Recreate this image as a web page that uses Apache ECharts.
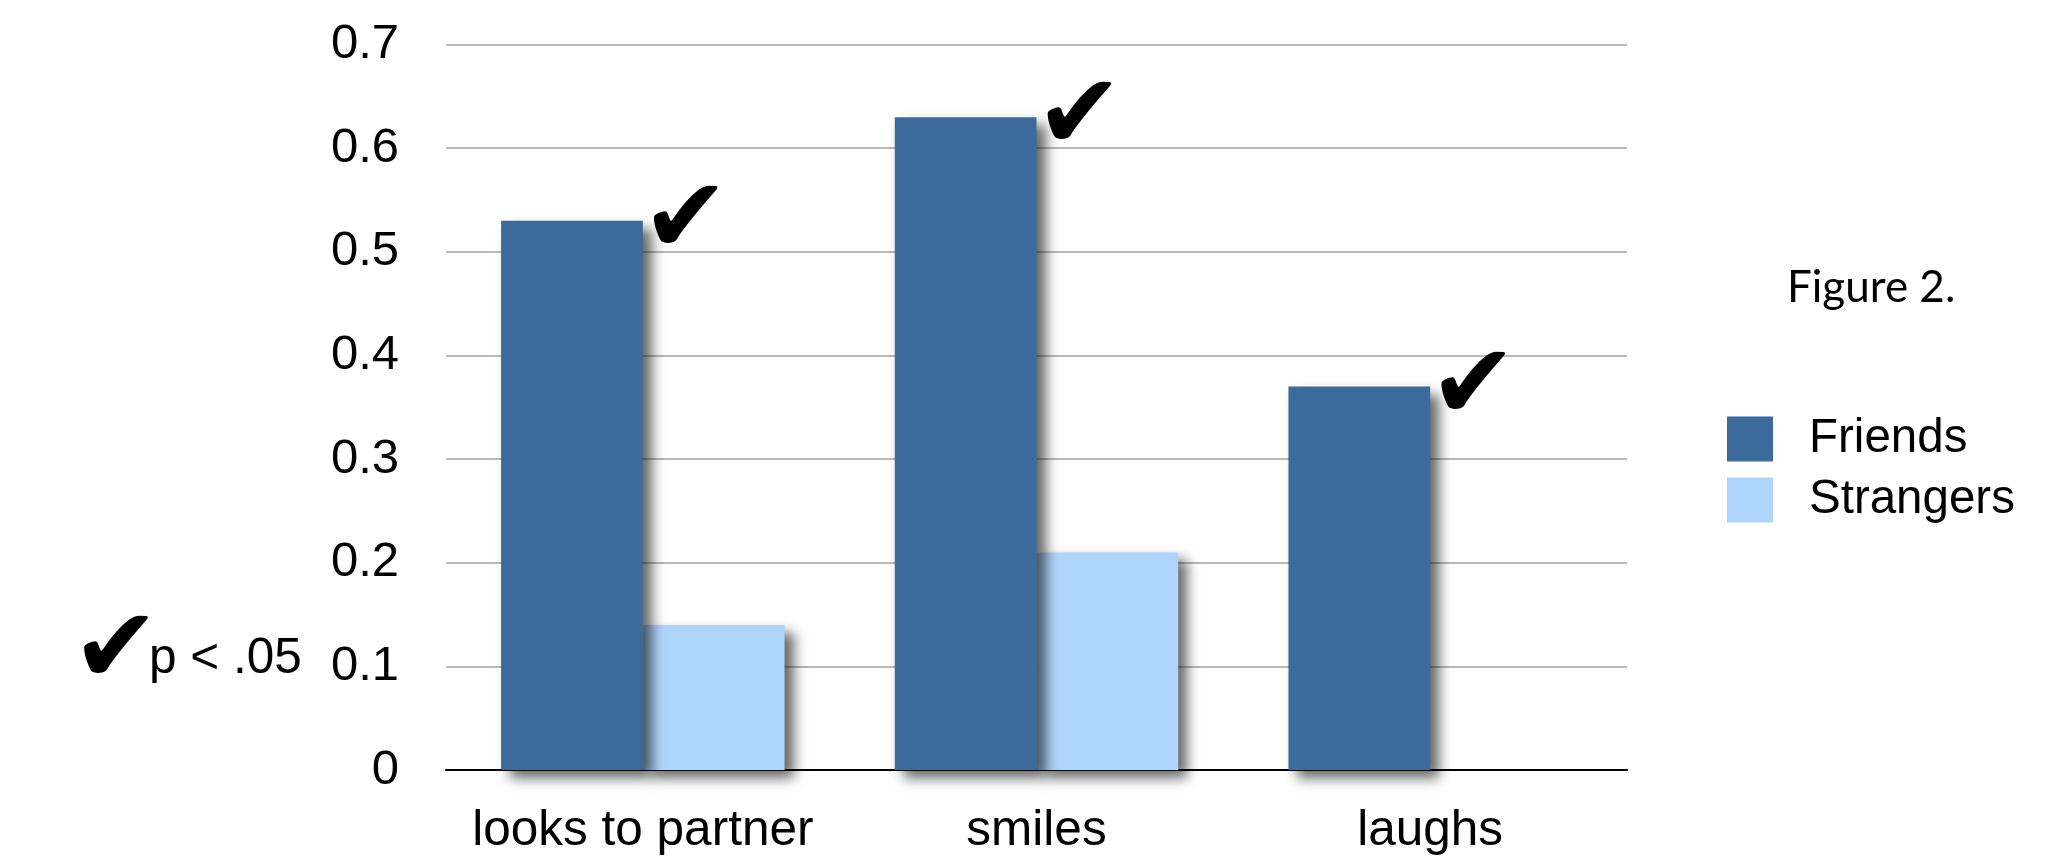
<!DOCTYPE html>
<html>
<head>
<meta charset="utf-8">
<script src="https://cdn.jsdelivr.net/npm/echarts@6/dist/echarts.min.js"></script>
<style>
html,body{margin:0;padding:0;background:#fff;}
#chart{width:2056px;height:856px;}
</style>
</head>
<body>
<div id="chart"></div>
<script>
const categories = ['looks to partner', 'smiles', 'laughs'];
const friends = [0.53, 0.63, 0.37];
const strangers = [0.14, 0.21, null];
const significant = [true, true, true];
const seriesNames = ['Friends', 'Strangers'];
const checkMark = '\u2714';
const noteText = 'p < .05';
const figureTitle = 'Figure 2.';

const FONT = '"Liberation Sans", Arial, sans-serif';
const chart = echarts.init(document.getElementById('chart'));

const shadow = {shadowBlur: 12, shadowOffsetX: 9, shadowOffsetY: 8, shadowColor: 'rgba(0,0,0,0.6)'};

chart.setOption({
  animation: false,
  backgroundColor: '#ffffff',
  textStyle: {fontFamily: FONT, color: '#000'},
  grid: {left: 446, right: 429, top: 44.6, bottom: 86, containLabel: false},
  legend: {
    orient: 'vertical',
    left: 1722,
    top: 410,
    itemWidth: 46,
    itemHeight: 45,
    itemGap: 13,
    icon: 'rect',
    data: seriesNames,
    textStyle: {fontFamily: FONT, fontSize: 47.5, color: '#000', padding: [0, 0, 0, 31]}
  },
  xAxis: {
    type: 'category',
    data: categories,
    axisLine: {lineStyle: {color: '#000', width: 2}},
    axisTick: {show: false},
    axisLabel: {fontFamily: FONT, fontSize: 49.5, color: '#000', margin: 36, interval: 0}
  },
  yAxis: {
    type: 'value',
    min: 0, max: 0.7, interval: 0.1,
    axisLine: {show: false},
    axisTick: {show: false},
    splitLine: {lineStyle: {color: '#b9b9b9', width: 2}},
    axisLabel: {fontFamily: FONT, fontSize: 49, color: '#000', margin: 47,
      formatter: v => v === 0 ? '0' : v.toFixed(1)}
  },
  series: [
    {
      name: seriesNames[0],
      type: 'bar',
      z: 3,
      data: friends.map((v, i) => ({
        value: v,
        label: {show: significant[i]}
      })),
      barGap: '0%',
      barCategoryGap: '28%',
      itemStyle: Object.assign({color: '#3c6a9a'}, shadow),
      label: {
        position: ['100%', 0],
        formatter: checkMark,
        fontFamily: '"DejaVu Sans"',
        fontSize: 105,
        color: '#000',
        align: 'left',
        verticalAlign: 'middle',
        offset: [-1, 4]
      }
    },
    {
      name: seriesNames[1],
      type: 'bar',
      z: 2,
      data: strangers,
      barGap: '0%',
      barCategoryGap: '28%',
      itemStyle: Object.assign({color: '#b0d5fc'}, shadow)
    }
  ],
  graphic: [
    {type: 'text', left: 72, top: 602, style: {text: checkMark, font: '105px "DejaVu Sans"', fill: '#000'}},
    {type: 'text', left: 149, top: 634, style: {text: noteText, font: '49.5px ' + FONT, fill: '#000'}},
    {type: 'text', left: 1787, top: 266, style: {text: figureTitle, font: '44px Lato', fill: '#000'}}
  ]
});
</script>
</body>
</html>
